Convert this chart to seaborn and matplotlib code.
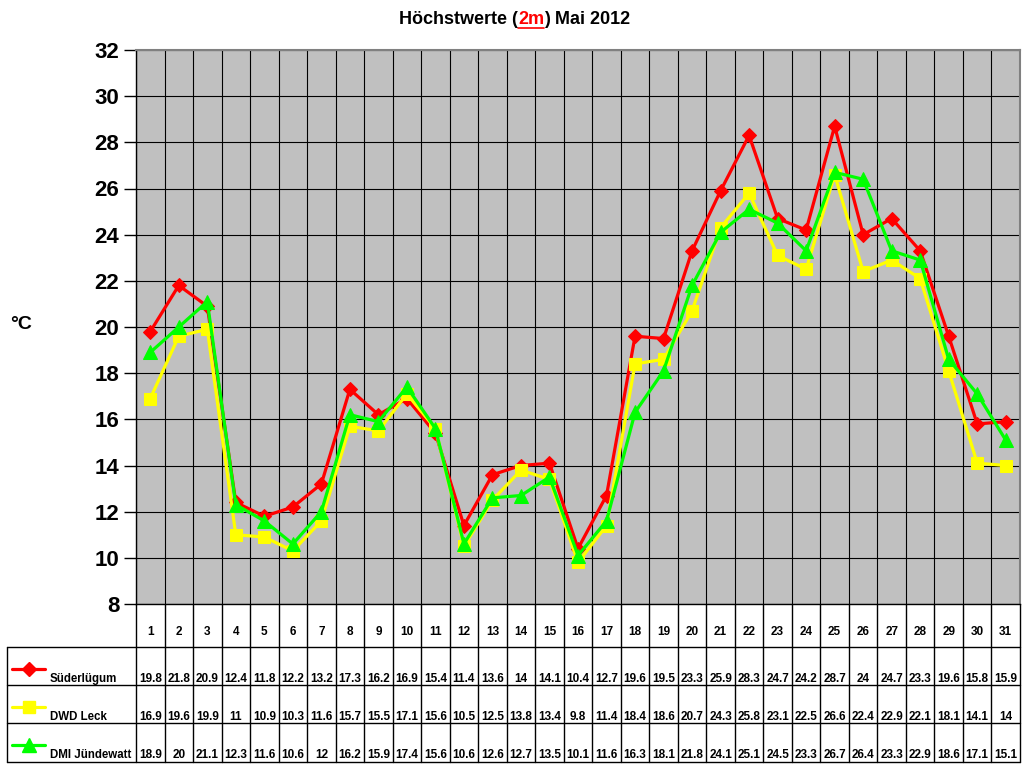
import numpy as np
import pandas as pd
import matplotlib
matplotlib.use("Agg")
import matplotlib.pyplot as plt
import matplotlib.transforms as mtransforms
from matplotlib.lines import Line2D
import seaborn as sns

# Données : températures maximales (2m) mai 2012
days = list(range(1, 32))
series_names = ["Süderlügum", "DWD Leck", "DMI Jündewatt"]
suederluegum = [19.8, 21.8, 20.9, 12.4, 11.8, 12.2, 13.2, 17.3, 16.2, 16.9, 15.4, 11.4, 13.6, 14, 14.1, 10.4,
                12.7, 19.6, 19.5, 23.3, 25.9, 28.3, 24.7, 24.2, 28.7, 24, 24.7, 23.3, 19.6, 15.8, 15.9]
dwd_leck = [16.9, 19.6, 19.9, 11, 10.9, 10.3, 11.6, 15.7, 15.5, 17.1, 15.6, 10.5, 12.5, 13.8, 13.4, 9.8,
            11.4, 18.4, 18.6, 20.7, 24.3, 25.8, 23.1, 22.5, 26.6, 22.4, 22.9, 22.1, 18.1, 14.1, 14]
dmi_juendewatt = [18.9, 20, 21.1, 12.3, 11.6, 10.6, 12, 16.2, 15.9, 17.4, 15.6, 10.6, 12.6, 12.7, 13.5, 10.1,
                  11.6, 16.3, 18.1, 21.8, 24.1, 25.1, 24.5, 23.3, 26.7, 26.4, 23.3, 22.9, 18.6, 17.1, 15.1]
y_ticks = list(range(8, 33, 2))

values = [suederluegum, dwd_leck, dmi_juendewatt]
colors = ["#FF0000", "#FFFF00", "#00FF00"]
markers = ["D", "s", "^"]
msizes = [7.5, 8, 9.5]

sns.set_style("white")
plt.rcParams["font.family"] = ["Liberation Sans", "DejaVu Sans"]
plt.rcParams["font.weight"] = "bold"
plt.rcParams["text.color"] = "black"
plt.rcParams["ytick.color"] = "black"
plt.rcParams["ytick.labelcolor"] = "black"

W, H = 1024, 768
fig = plt.figure(figsize=(W / 100, H / 100), dpi=100)
left_px, right_px, top_px, bot_px = 136, 1020, 50, 604
ax = fig.add_axes([left_px / W, 1 - bot_px / H, (right_px - left_px) / W, (bot_px - top_px) / H])
ax.set_facecolor("#C0C0C0")

# Grille
for y in y_ticks:
    ax.axhline(y, color="black", lw=0.8, zorder=1)
for x in np.arange(0.5, 32, 1):
    ax.axvline(x, color="black", lw=0.8, zorder=1)

# Courbes
for name, vals, c, m, ms in zip(series_names, values, colors, markers, msizes):
    df = pd.DataFrame({"jour": days, "temp": vals})
    sns.lineplot(data=df, x="jour", y="temp", ax=ax, color=c, lw=2.3, marker=m,
                 markersize=ms, markeredgecolor=c, zorder=3, legend=False)

ax.set_xlim(0.5, 31.5)
ax.set_ylim(8, 32)
ax.set_yticks(y_ticks)
ax.set_yticklabels([str(v) for v in y_ticks], fontsize=16, fontweight="bold", color="black")
ax.set_xticks([])
ax.set_xlabel("")
ax.set_ylabel("")
ax.tick_params(axis="y", length=9, width=1, color="black", pad=3, left=True)
for s in ["left", "bottom"]:
    ax.spines[s].set_color("black")
    ax.spines[s].set_linewidth(1)
for s in ["top", "right"]:
    ax.spines[s].set_color("#808080")
    ax.spines[s].set_linewidth(1.5)

fig.text(10 / W, 1 - 325 / H, "°C", fontsize=14, fontweight="bold", ha="left", va="center")

# Titre avec "2m" en rouge souligné
renderer = fig.canvas.get_renderer()
parts = [("Höchstwerte (", "black", False), ("2m", "red", True), (") Mai 2012", "black", False)]
title_y = 1 - 20 / H
texts = []
for txt, col, _ in parts:
    t = fig.text(0, title_y, txt, fontsize=13, fontweight="bold", color=col, ha="left", va="center")
    texts.append(t)
widths = [t.get_window_extent(renderer).width for t in texts]
x0 = (W / 2 + 3 - sum(widths) / 2)
for t, w, (txt, col, und) in zip(texts, widths, parts):
    t.set_x(x0 / W)
    if und:
        bb = t.get_window_extent(renderer)
        fig.add_artist(Line2D([x0 / W, (x0 + w) / W], [(bb.y0 + 1) / H] * 2, color=col, lw=1.2))
    x0 += w

# Tableau des données
trans = mtransforms.blended_transform_factory(ax.transData, fig.transFigure)
px_per_unit = (right_px - left_px) / 31.0
table_left = 0.5 - (left_px - 7) / px_per_unit
fy = lambda p: 1 - p / H
row_edges = [604, 647, 685, 723, 762]

line_kw = dict(color="black", lw=1, transform=trans, clip_on=False)
# lignes horizontales
for p in row_edges[1:]:
    ax.add_line(Line2D([table_left, 31.5], [fy(p)] * 2, **line_kw))
# lignes verticales
for x in np.arange(0.5, 32, 1):
    ax.add_line(Line2D([x, x], [fy(604), fy(762)], **line_kw))
ax.add_line(Line2D([table_left, table_left], [fy(647), fy(762)], **line_kw))

for d in days:
    ax.text(d, fy(632), str(d), transform=trans, ha="center", va="center",
            fontsize=8.5, fontweight="bold", clip_on=False)

for i, (name, vals, c, m, ms) in enumerate(zip(series_names, values, colors, markers, msizes)):
    ybase = row_edges[i + 1]
    for d, v in zip(days, vals):
        ax.text(d, fy(ybase + 32), f"{v:g}", transform=trans, ha="center", va="center",
                fontsize=8.5, fontweight="bold", clip_on=False)
    # légende dans la colonne de gauche
    ly = fy(ybase + 22)
    fig.add_artist(Line2D([12 / W, 45 / W], [ly, ly], color=c, lw=2.3))
    fig.add_artist(Line2D([29 / W], [ly], color=c, marker=m, markersize=ms, markeredgecolor=c))
    fig.text(50 / W, fy(ybase + 32), name, fontsize=8.3, fontweight="bold", ha="left", va="center")

fig.savefig("out.png", dpi=100)
